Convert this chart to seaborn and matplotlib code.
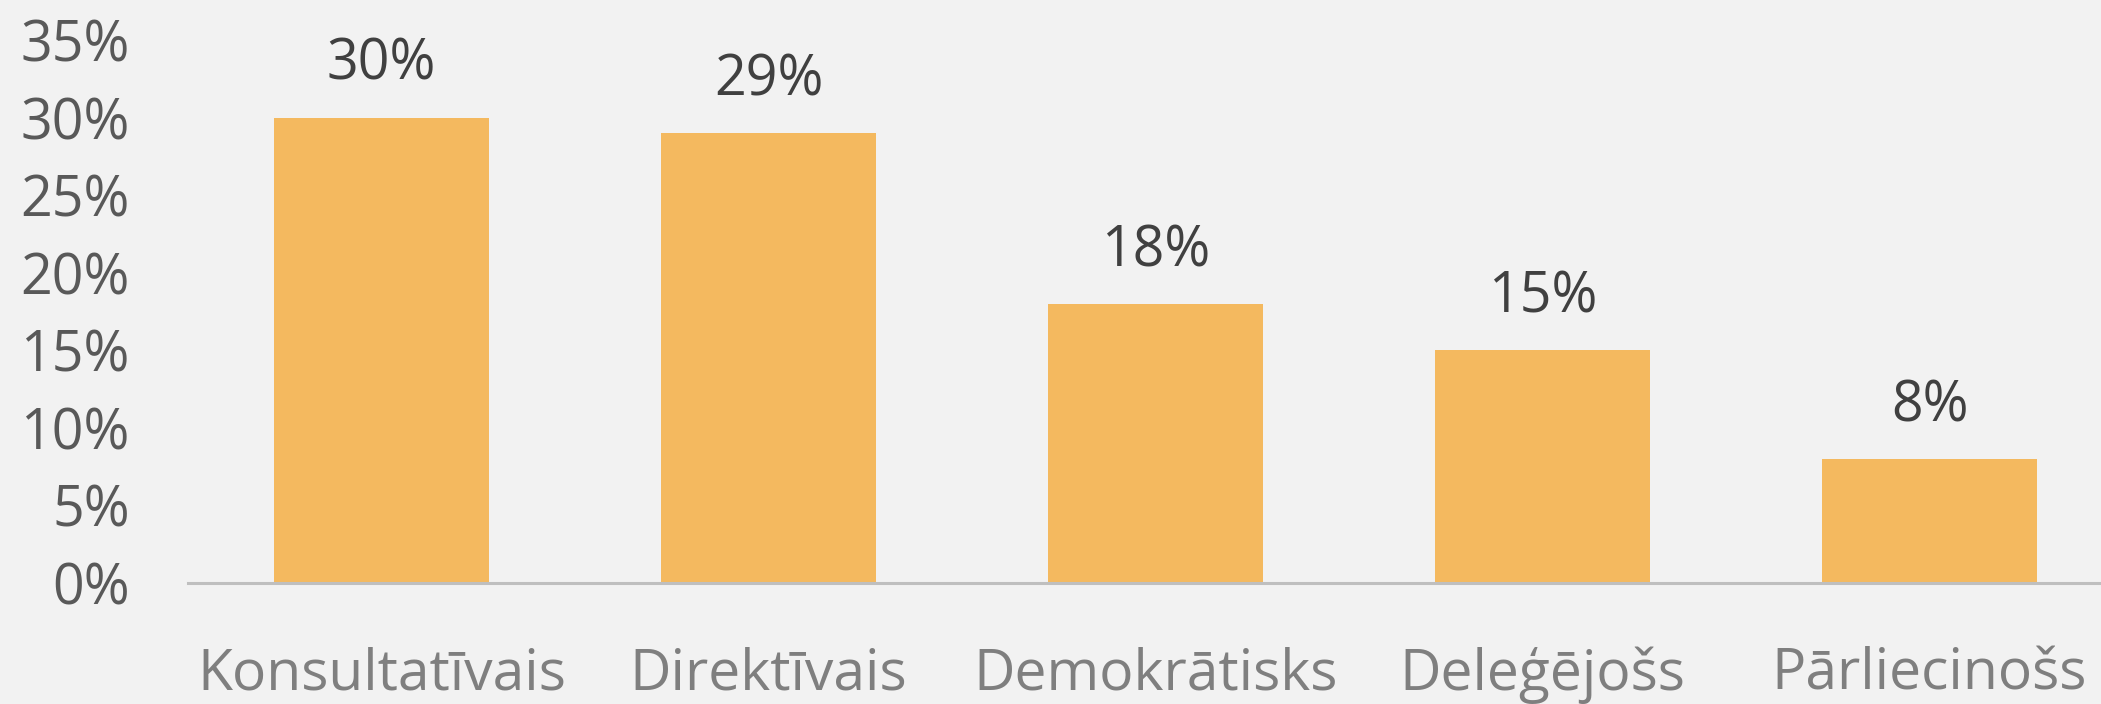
import pandas as pd
import numpy as np
import matplotlib.pyplot as plt
import seaborn as sns

categories = ['Konsultatīvais', 'Direktīvais', 'Demokrātisks', 'Deleģējošs', 'Pārliecinošs']
values = [30, 29, 18, 15, 8]
yticks = [0, 5, 10, 15, 20, 25, 30, 35]

sns.set_style('white')
plt.rcParams['font.family'] = ['Open Sans', 'DejaVu Sans']

df = pd.DataFrame({'cat': categories, 'val': values})

fig = plt.figure(figsize=(21.01, 7.04), dpi=100, facecolor='#f2f2f2')
ax = fig.add_axes([188 / 2101, 1 - 583 / 704, 1935 / 2101, 543 / 704])
ax.set_facecolor('#f2f2f2')

sns.barplot(data=df, x='cat', y='val', color='#f4b95f', width=0.557, saturation=1,
            linewidth=0, ax=ax)

ax.set_xlim(-0.5, 4.5)
ax.set_ylim(0, 35)
ax.set_yticks(yticks)
ax.set_yticklabels([f'{t}%' for t in yticks])
ax.set_xlabel('')
ax.set_ylabel('')

for s in ['top', 'right', 'left']:
    ax.spines[s].set_visible(False)
ax.spines['bottom'].set_color('#bfbfbf')
ax.spines['bottom'].set_linewidth(2.2)

ax.tick_params(axis='y', length=0, pad=42, labelsize=40, labelcolor='#595959')
ax.tick_params(axis='x', length=0, pad=46, labelsize=41, labelcolor='#7f7f7f')

for i, v in enumerate(values):
    ax.annotate(f'{v}%', (i, v), xytext=(0, 17), textcoords='offset points',
                ha='center', va='bottom', fontsize=40, color='#404040')

fig.savefig('out.png', dpi=100, facecolor=fig.get_facecolor())
